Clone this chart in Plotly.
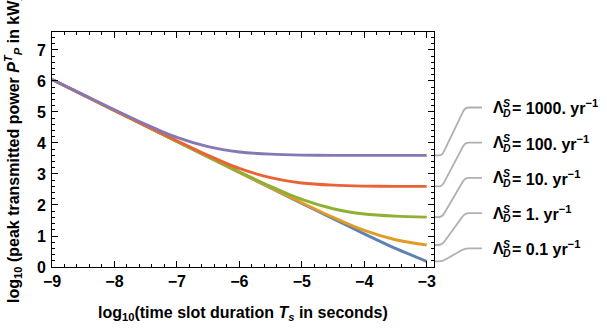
import plotly.graph_objects as go

# log10 of time slot duration (s)
log_ts = [-9.0, -8.5, -8.0, -7.5, -7.0, -6.5, -6.0, -5.5, -5.0, -4.5, -4.0, -3.5, -3.0]

# log10 of peak transmitted power (kW), one series per disruption rate
rates = ["0.1", "1.", "10.", "100.", "1000."]
power_01 = [6.05, 5.55, 5.05, 4.55, 4.05, 3.55, 3.05, 2.55, 2.05, 1.56, 1.07, 0.60, 0.18]
power_1 = [6.05, 5.55, 5.05, 4.55, 4.05, 3.55, 3.05, 2.56, 2.07, 1.60, 1.18, 0.88, 0.71]
power_10 = [6.05, 5.55, 5.05, 4.55, 4.05, 3.56, 3.07, 2.60, 2.18, 1.88, 1.71, 1.64, 1.61]
power_100 = [6.05, 5.55, 5.05, 4.56, 4.07, 3.60, 3.18, 2.88, 2.71, 2.64, 2.61, 2.60, 2.60]
power_1000 = [6.05, 5.56, 5.07, 4.60, 4.18, 3.88, 3.71, 3.64, 3.61, 3.60, 3.60, 3.60, 3.60]
series = [power_01, power_1, power_10, power_100, power_1000]
colors = ["#5E81B5", "#E19C24", "#8FB032", "#EB6235", "#8778B3"]

W, H = 607, 332
L, R, T, B = 52, 434, 32, 267           # plot frame in pixels
X_RANGE = [-9.0, -2.883]
Y_RANGE = [0.0, 7.58]

def px_x(px):
    return (px - L) / (R - L)

def px_y(py):
    return (B - py) / (B - T)

def data_to_py(y):
    return B - (y - Y_RANGE[0]) / (Y_RANGE[1] - Y_RANGE[0]) * (B - T)

fig = go.Figure()
for ys, c in zip(series, colors):
    fig.add_trace(go.Scatter(
        x=log_ts, y=ys, mode="lines",
        line=dict(color=c, width=2.9, shape="spline", smoothing=0.8),
        showlegend=False, hoverinfo="skip",
    ))

FONT = "Liberation Sans"
tickfont = dict(family=FONT, size=16, color="black", weight="bold")

axis_common = dict(
    showline=True, linecolor="black", linewidth=1, mirror="allticks",
    ticks="inside", ticklen=6, tickcolor="black", tickwidth=1,
    showgrid=False, zeroline=False, dtick=1, tick0=0,
    minor=dict(ticks="inside", ticklen=3, tickcolor="black", dtick=0.2, showgrid=False),
    tickfont=tickfont,
)

fig.update_xaxes(range=X_RANGE, **axis_common)
fig.update_yaxes(range=Y_RANGE, ticklabelstandoff=2, **axis_common)

annotations = []
shapes = []

# axis titles
title_font = dict(family=FONT, size=16, color="black", weight="bold")
annotations.append(dict(
    xref="paper", yref="paper", x=px_x(243), y=px_y(313),
    text="log<sub>10</sub>(time slot duration <i>T<sub>s</sub></i> in seconds)",
    showarrow=False, font=title_font, xanchor="center", yanchor="middle",
))
annotations.append(dict(
    xref="paper", yref="paper", x=px_x(13), y=px_y(149),
    text="log<sub>10</sub> (peak transmitted power <i>P</i><sup><i>T</i></sup><sub><i>P</i></sub> in kW)",
    showarrow=False, font=title_font, textangle=-90, xanchor="center", yanchor="middle",
))

# callout labels, top (largest rate) to bottom
label_top_py = 107.5
label_step = 35.2
label_font = dict(family=FONT, size=16, color="black", weight="bold")
small_font = dict(family=FONT, size=10.5, color="black", weight="bold")
for i, (rate, ys) in enumerate(zip(reversed(rates), reversed(series))):
    ly = label_top_py + i * label_step
    y0 = data_to_py(ys[-1])
    # leader line from curve end to label
    x_a, x_b, x_c, x_d = 435, 442, 465, 482
    dx, dy = x_c - x_b, ly - y0
    n = (dx * dx + dy * dy) ** 0.5
    ux, uy = dx / n, dy / n
    r = 4.5
    pts = [
        (x_a, y0), (x_b - 3, y0),
        (x_b, y0), (x_b + ux * r, y0 + uy * r),
        (x_c - ux * r, ly - uy * r),
        (x_c, ly), (x_c + 4, ly),
        (x_d, ly),
    ]
    def P(p):
        return f"{px_x(p[0]):.5f},{px_y(p[1]):.5f}"
    path = (f"M {P(pts[0])} L {P(pts[1])} Q {P(pts[2])} {P(pts[3])} "
            f"L {P(pts[4])} Q {P(pts[5])} {P(pts[6])} L {P(pts[7])}")
    shapes.append(dict(type="path", xref="paper", yref="paper", path=path,
                       line=dict(color="#B0B0B0", width=1.8)))
    annotations.append(dict(xref="paper", yref="paper", x=px_x(491.5), y=px_y(ly),
                            text="Λ", showarrow=False, font=label_font, borderpad=0,
                            xanchor="left", yanchor="middle"))
    annotations.append(dict(xref="paper", yref="paper", x=px_x(501.5), y=px_y(ly - 4.5),
                            text="<i>S</i>", showarrow=False, font=small_font, borderpad=0,
                            xanchor="left", yanchor="middle"))
    annotations.append(dict(xref="paper", yref="paper", x=px_x(501.5), y=px_y(ly + 5),
                            text="<i>D</i>", showarrow=False, font=small_font, borderpad=0,
                            xanchor="left", yanchor="middle"))
    annotations.append(dict(xref="paper", yref="paper", x=px_x(510.5), y=px_y(ly),
                            text=f"= {rate} yr<sup>−1</sup>", showarrow=False, font=label_font,
                            borderpad=0, xanchor="left", yanchor="middle"))

fig.update_layout(
    width=W, height=H,
    margin=dict(l=L, r=W - R, t=T, b=H - B, pad=0),
    paper_bgcolor="white", plot_bgcolor="white",
    annotations=annotations, shapes=shapes,
    showlegend=False,
)

fig.write_html("out.html")
